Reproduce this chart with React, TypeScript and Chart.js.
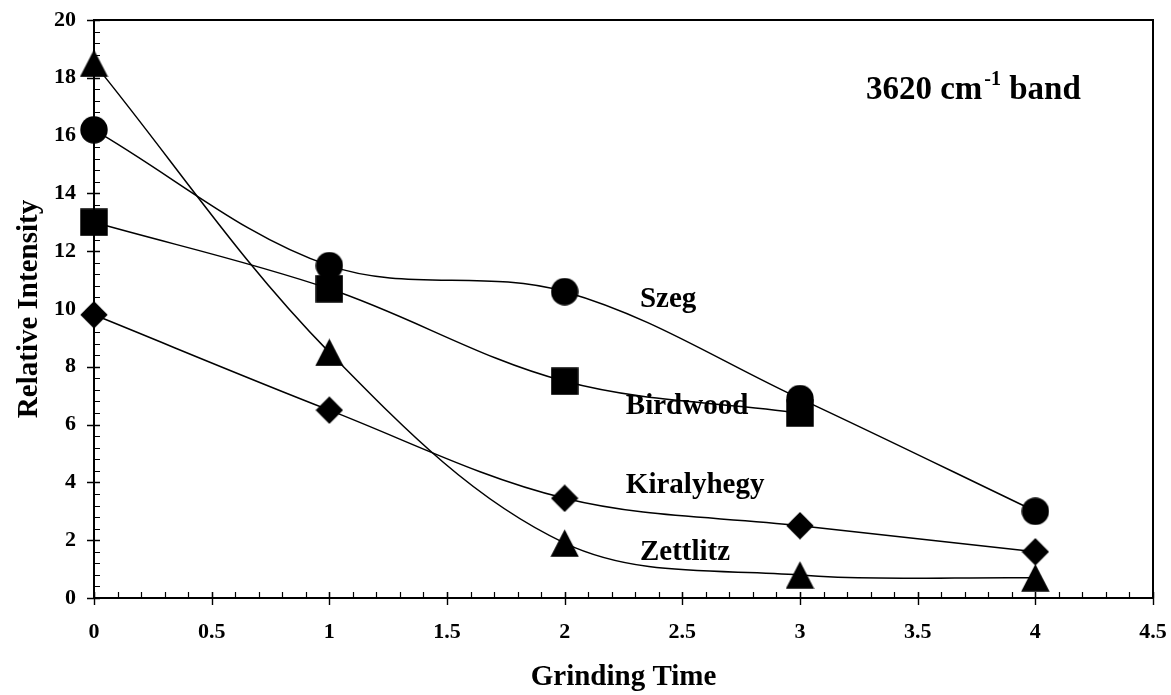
import React, { useEffect, useRef } from "react";
import { Chart, registerables } from "chart.js";

Chart.register(...registerables);

const FONT = "'Liberation Serif', 'Times New Roman', serif";

// Data
const grindingTime = [0, 1, 2, 3, 4];
const szeg = [16.2, 11.5, 10.6, 6.9, 3.0];
const birdwood = [13.0, 10.7, 7.5, 6.4];
const kiralyhegy = [9.8, 6.5, 3.45, 2.5, 1.6];
const zettlitz = [18.5, 8.5, 1.9, 0.8, 0.7];

// Axes
const xTicks = [0, 0.5, 1, 1.5, 2, 2.5, 3, 3.5, 4, 4.5];
const xTickLabels = ["0", "0.5", "1", "1.5", "2", "2.5", "3", "3.5", "4", "4.5"];
const yTicks = [0, 2, 4, 6, 8, 10, 12, 14, 16, 18, 20];
const yTickLabels = ["0", "2", "4", "6", "8", "10", "12", "14", "16", "18", "20"];
const xMinorStep = 0.1;
const yMinorStep = 0.4;

// Annotations (data coordinates: left / baseline)
const seriesNames = ["Szeg", "Birdwood", "Kiralyhegy", "Zettlitz"];
const nameX = [2.32, 2.26, 2.26, 2.32];
const nameY = [10.07, 6.36, 3.65, 1.33];
const bandTitleMain = "3620 cm";
const bandTitleSup = "-1";
const bandTitleEnd = " band";
const bandTitleX = 3.28;
const bandTitleY = 17.28;

function makeMarker(shape: string): HTMLCanvasElement {
  const c = document.createElement("canvas");
  const w = shape === "triangle" ? 29 : 28;
  const h = 28;
  c.width = w;
  c.height = h;
  const g = c.getContext("2d")!;
  g.fillStyle = "#000";
  g.beginPath();
  if (shape === "circle") {
    g.arc(14, 14, 13.7, 0, Math.PI * 2);
  } else if (shape === "square") {
    g.rect(0.25, 0.25, 27.5, 27.5);
  } else if (shape === "diamond") {
    g.moveTo(14, 0.3);
    g.lineTo(27.7, 14);
    g.lineTo(14, 27.7);
    g.lineTo(0.3, 14);
    g.closePath();
  } else {
    g.moveTo(14.5, 0.3);
    g.lineTo(28.7, 27.7);
    g.lineTo(0.3, 27.7);
    g.closePath();
  }
  g.fill();
  return c;
}

const axesPlugin = {
  id: "axesPlugin",
  beforeDatasetsDraw(chart: any) {
    const { ctx, chartArea, scales } = chart;
    const xs = scales.x;
    const ys = scales.y;
    const { left, right, top, bottom } = chartArea;
    ctx.save();
    ctx.strokeStyle = "#000";
    // minor ticks (inside)
    ctx.lineWidth = 1.2;
    ctx.beginPath();
    for (let v = 0; v <= 4.5 + 1e-9; v += xMinorStep) {
      const p = Math.round(xs.getPixelForValue(v)) + 0.5;
      ctx.moveTo(p, bottom);
      ctx.lineTo(p, bottom - 6);
    }
    for (let v = 0; v <= 20 + 1e-9; v += yMinorStep) {
      const p = Math.round(ys.getPixelForValue(v)) + 0.5;
      ctx.moveTo(left, p);
      ctx.lineTo(left + 6, p);
    }
    ctx.stroke();
    // major ticks (crossing)
    ctx.lineWidth = 1.4;
    ctx.beginPath();
    for (const v of xTicks) {
      const p = Math.round(xs.getPixelForValue(v)) + 0.5;
      ctx.moveTo(p, bottom - 6);
      ctx.lineTo(p, bottom + 7);
    }
    for (const v of yTicks) {
      const p = Math.round(ys.getPixelForValue(v)) + 0.5;
      ctx.moveTo(left - 7, p);
      ctx.lineTo(left + 6, p);
    }
    ctx.stroke();
    // frame
    ctx.lineWidth = 2;
    ctx.strokeRect(left, top, right - left, bottom - top);
    ctx.restore();
  },
  afterDatasetsDraw(chart: any) {
    const { ctx, scales } = chart;
    const xs = scales.x;
    const ys = scales.y;
    ctx.save();
    ctx.fillStyle = "#000";
    ctx.textAlign = "left";
    ctx.textBaseline = "alphabetic";
    ctx.font = `bold 29px ${FONT}`;
    seriesNames.forEach((n, i) => {
      ctx.fillText(n, xs.getPixelForValue(nameX[i]), ys.getPixelForValue(nameY[i]));
    });
    // band title with superscript
    let tx = xs.getPixelForValue(bandTitleX);
    const ty = ys.getPixelForValue(bandTitleY);
    ctx.font = `bold 33px ${FONT}`;
    ctx.fillText(bandTitleMain, tx, ty);
    tx += ctx.measureText(bandTitleMain).width;
    ctx.font = `bold 20px ${FONT}`;
    ctx.fillText(bandTitleSup, tx + 2, ty - 14);
    tx += ctx.measureText(bandTitleSup).width + 2;
    ctx.font = `bold 33px ${FONT}`;
    ctx.fillText(bandTitleEnd, tx, ty);
    ctx.restore();
  },
};

export default function App() {
  const ref = useRef<HTMLCanvasElement | null>(null);

  useEffect(() => {
    if (!ref.current) return;
    const mk = (xsArr: number[], ysArr: number[]) =>
      ysArr.map((y, i) => ({ x: xsArr[i], y }));
    const base = {
      borderColor: "#000",
      borderWidth: 1.5,
      tension: 0.35,
      pointRadius: 14,
      clip: false as any,
      fill: false,
    };
    const chart = new Chart(ref.current, {
      type: "line",
      data: {
        datasets: [
          { ...base, label: seriesNames[0], data: mk(grindingTime, szeg), pointStyle: makeMarker("circle") as any },
          { ...base, label: seriesNames[1], data: mk(grindingTime, birdwood), pointStyle: makeMarker("square") as any },
          { ...base, label: seriesNames[2], data: mk(grindingTime, kiralyhegy), pointStyle: makeMarker("diamond") as any },
          { ...base, label: seriesNames[3], data: mk(grindingTime, zettlitz), pointStyle: makeMarker("triangle") as any },
        ],
      },
      options: {
        animation: false,
        responsive: false,
        devicePixelRatio: 1,
        events: [],
        layout: { padding: { top: 20, right: 18, left: 0, bottom: 0 } },
        plugins: { legend: { display: false }, tooltip: { enabled: false } },
        scales: {
          x: {
            type: "linear",
            min: 0,
            max: 4.5,
            grid: { display: false, drawTicks: false },
            border: { display: false },
            afterBuildTicks: (s: any) => {
              s.ticks = xTicks.map((v) => ({ value: v }));
            },
            afterFit: (s: any) => {
              s.height = 97;
              s.paddingLeft = 0;
              s.paddingRight = 0;
            },
            ticks: {
              autoSkip: false,
              maxRotation: 0,
              padding: 21,
              color: "#000",
              font: { family: FONT, size: 22, weight: "bold" },
              callback: (_v: any, i: number) => xTickLabels[i],
            },
            title: {
              display: true,
              text: "Grinding Time",
              color: "#000",
              font: { family: FONT, size: 29, weight: "bold" },
              padding: { top: 0, bottom: 0 },
            },
          },
          y: {
            type: "linear",
            min: 0,
            max: 20,
            grid: { display: false, drawTicks: false },
            border: { display: false },
            afterBuildTicks: (s: any) => {
              s.ticks = yTicks.map((v) => ({ value: v }));
            },
            afterFit: (s: any) => {
              s.width = 94;
              s.paddingTop = 0;
              s.paddingBottom = 0;
            },
            ticks: {
              autoSkip: false,
              padding: 18,
              color: "#000",
              font: { family: FONT, size: 22, weight: "bold" },
              callback: (_v: any, i: number) => yTickLabels[i],
            },
            title: {
              display: true,
              text: "Relative Intensity",
              color: "#000",
              font: { family: FONT, size: 29, weight: "bold" },
              padding: { top: 12.5, bottom: 0 },
            },
          },
        },
      },
      plugins: [axesPlugin],
    });
    return () => chart.destroy();
  }, []);

  return (
    <div style={{ position: "absolute", left: 0, top: 0, width: 1171, height: 695, background: "#fff" }}>
      <canvas ref={ref} width={1171} height={695} style={{ display: "block" }} />
    </div>
  );
}
